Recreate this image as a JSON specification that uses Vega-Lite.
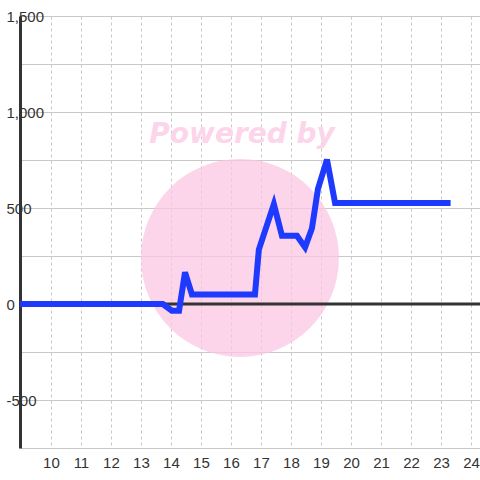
{
  "$schema": "https://vega.github.io/schema/vega-lite/v6.json",
  "width": 460,
  "height": 432,
  "autosize": {"type": "none"},
  "padding": {"left": 20, "top": 16, "right": 0, "bottom": 32},
  "background": "white",
  "datasets": {
    "series": [
      {"x": 8.97, "y": 0},
      {"x": 13.73, "y": 0},
      {"x": 14.03, "y": -35},
      {"x": 14.27, "y": -35},
      {"x": 14.47, "y": 165},
      {"x": 14.7, "y": 50},
      {"x": 16.8, "y": 50},
      {"x": 16.93, "y": 283},
      {"x": 17.43, "y": 520},
      {"x": 17.7, "y": 355},
      {"x": 18.2, "y": 355},
      {"x": 18.47, "y": 295},
      {"x": 18.7, "y": 395},
      {"x": 18.9, "y": 600},
      {"x": 19.2, "y": 752},
      {"x": 19.47, "y": 526},
      {"x": 23.32, "y": 526}
    ],
    "zero": [{"x": 8.97, "y": 0}, {"x": 24.3, "y": 0}],
    "badge": [{"x": 16.3, "y": 240}],
    "caption": [{"x": 16.37, "y": 880, "label": "Powered by"}]
  },
  "encoding": {
    "x": {
      "field": "x", "type": "quantitative",
      "scale": {"domain": [8.97, 24.3], "nice": false, "zero": false},
      "axis": {
        "title": null,
        "values": [10, 11, 12, 13, 14, 15, 16, 17, 18, 19, 20, 21, 22, 23, 24],
        "grid": true,
        "gridColor": "#c8c8c8",
        "gridDash": [3, 3],
        "gridWidth": 1,
        "domain": false,
        "ticks": false,
        "tickSize": 0,
        "labelPadding": 7,
        "labelFontSize": 15,
        "labelFont": "Liberation Sans",
        "labelColor": "#333333",
        "labelFlush": false,
        "labelOverlap": false,
        "labelSeparation": 0
      }
    },
    "y": {
      "field": "y", "type": "quantitative",
      "scale": {"domain": [-750, 1500], "nice": false},
      "axis": {
        "title": null,
        "values": [-750, -500, -250, 0, 250, 500, 750, 1000, 1250, 1500],
        "labelExpr": "datum.value % 500 === 0 ? replace(format(datum.value, ','), '\u2212', '-') : ''",
        "grid": true,
        "gridColor": "#c8c8c8",
        "gridWidth": 1,
        "domain": true,
        "domainColor": "#333333",
        "domainWidth": 3,
        "ticks": false,
        "tickSize": 0,
        "labelAlign": "left",
        "labelBaseline": "middle",
        "labelPadding": 14,
        "labelFontSize": 15,
        "labelFont": "Liberation Sans",
        "labelColor": "#333333",
        "labelFlush": false,
        "labelOverlap": false
      }
    }
  },
  "layer": [
    {
      "data": {"name": "badge"},
      "mark": {"type": "point", "shape": "circle", "filled": true, "size": 39200, "color": "#fbc7e4", "opacity": 0.75, "strokeWidth": 0}
    },
    {
      "data": {"name": "caption"},
      "mark": {"type": "text", "font": "DejaVu Sans", "fontSize": 28, "fontWeight": "bold", "fontStyle": "italic", "color": "#fdd5ea", "baseline": "middle", "align": "center"},
      "encoding": {"text": {"field": "label"}}
    },
    {
      "data": {"name": "zero"},
      "mark": {"type": "line", "color": "#333333", "strokeWidth": 3}
    },
    {
      "data": {"name": "series"},
      "mark": {"type": "line", "color": "#1e3aff", "strokeWidth": 6}
    }
  ],
  "config": {
    "view": {"stroke": null}
  }
}
